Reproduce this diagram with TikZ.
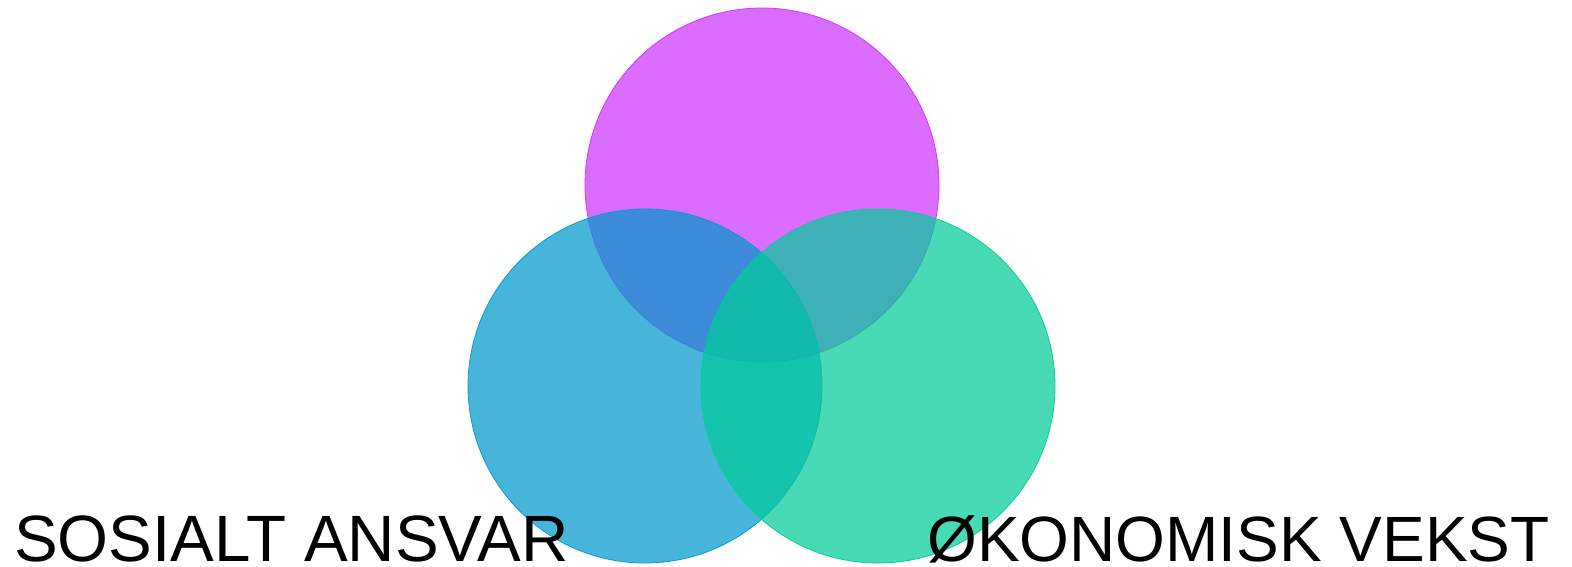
\documentclass[tikz,border=0pt]{standalone}
\usepackage{fontspec}
\setmainfont{Liberation Sans}
\usepackage{tikz}
\usetikzlibrary{positioning}

\definecolor{venn_magenta}{HTML}{CC33FF}
\definecolor{venn_blue}{HTML}{0099CC}
\definecolor{venn_teal}{HTML}{00CC99}

\begin{document}
\begin{tikzpicture}[
    x=1pt, y=-1pt,
    venn/.style={
        circle,
        minimum size=354pt,
        inner sep=0pt,
        line width=0.8pt,
        fill opacity=0.72,
        draw opacity=0.95
    },
    venn_label/.style={
        inner sep=0pt,
        anchor=base west
    }
]
    \useasboundingbox (0,0) rectangle (1572,566);

    % ====== tre sirkler ======
    \node[venn, draw=venn_magenta, fill=venn_magenta] (top_circle) at (762,185) {};
    \node[venn, draw=venn_blue, fill=venn_blue] (left_circle) at (645,386) {};
    \node[venn, draw=venn_teal, fill=venn_teal] (right_circle) at (878,386) {};

    % ====== etiketter ======
    \node[venn_label, font=\fontsize{65.5}{70}\selectfont] (social_label) at (14,561) {SOSIALT ANSVAR};
    \node[venn_label, font=\fontsize{64}{70}\selectfont] (economy_label) at (927,561) {ØKONOMISK VEKST};

\end{tikzpicture}
\end{document}
